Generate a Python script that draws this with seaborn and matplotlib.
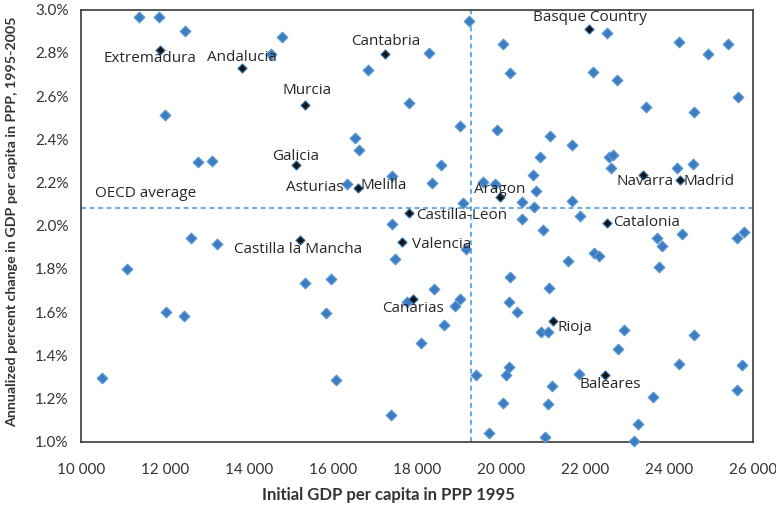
import matplotlib
matplotlib.use("Agg")
import matplotlib.pyplot as plt
import matplotlib.transforms as mtransforms
from matplotlib.ticker import FuncFormatter, MultipleLocator
import pandas as pd
import seaborn as sns

# Other OECD regions: initial GDP per capita in PPP (1995) and annualized growth (%)
oecd_gdp = [
    11381, 11857, 12476, 12008, 12794, 13127, 14778, 14516, 18278, 16826,
    19238, 20040, 20210, 17810, 19024, 19905, 16532, 16611, 18564, 22524,
    24238, 24921, 25413, 22190, 22754, 25635, 23452, 24587, 21167, 21683,
    20929, 22579, 22675, 22619, 24198, 24563, 20770, 20833, 20492, 20786,
    21683, 20508, 21889, 20992, 24310, 23722, 23841, 25611, 25786, 22214,
    22341, 21595, 23754, 20210, 21135, 20183, 20389, 22937, 20944, 21111,
    24603, 22794, 20190, 20119, 24238, 25746, 21857, 21222, 25626, 23627,
    20040, 21127, 23270, 21040, 23175, 18643, 18095, 16079, 17381, 19405,
    19707, 10492, 12460, 12611, 13238, 11095, 12016, 17413, 18349, 19579,
    19857, 19087, 17405, 19167, 17468, 15952, 15325, 18405, 17762, 19016,
    18897, 15833,
]
oecd_growth = [
    2.966, 2.966, 2.900, 2.512, 2.295, 2.301, 2.876, 2.796, 2.799, 2.719,
    2.950, 2.843, 2.707, 2.566, 2.460, 2.444, 2.404, 2.349, 2.282, 2.892,
    2.852, 2.795, 2.843, 2.713, 2.676, 2.596, 2.551, 2.526, 2.417, 2.372,
    2.316, 2.316, 2.327, 2.267, 2.267, 2.286, 2.233, 2.163, 2.110, 2.087,
    2.114, 2.031, 2.046, 1.978, 1.961, 1.941, 1.906, 1.943, 1.971, 1.874,
    1.858, 1.836, 1.809, 1.764, 1.710, 1.648, 1.602, 1.515, 1.506, 1.506,
    1.494, 1.431, 1.347, 1.307, 1.360, 1.356, 1.312, 1.258, 1.239, 1.205,
    1.177, 1.176, 1.083, 1.022, 1.003, 1.540, 1.458, 1.287, 1.122, 1.310,
    1.040, 1.296, 1.583, 1.941, 1.917, 1.801, 1.602, 2.230, 2.199, 2.201,
    2.194, 2.103, 2.008, 1.892, 1.846, 1.755, 1.733, 1.708, 1.647, 1.662,
    1.628, 1.596,
]

# Spanish regions
spain_names = [
    "Extremadura", "Andalucia", "Cantabria", "Murcia", "Galicia", "Asturias",
    "Melilla", "Castilla-Leon", "Castilla la Mancha", "Valencia", "Canarias",
    "Aragon", "Basque Country", "Navarra", "Madrid", "Catalonia", "Rioja",
    "Baleares",
]
spain_gdp = [
    11889, 13841, 17246, 15333, 15111, 16341, 16587, 17817, 15214, 17651,
    17897, 19976, 22103, 23373, 24262, 22532, 21230, 22484,
]
spain_growth = [
    2.813, 2.728, 2.793, 2.559, 2.282, 2.193, 2.175, 2.057, 1.934, 1.923,
    1.660, 2.133, 2.912, 2.233, 2.210, 2.012, 1.560, 1.310,
]
spain_dark = [True, True, True, True, True, False, True, True, True, True,
              True, True, True, True, True, True, True, True]

# OECD averages used for the reference lines
oecd_avg_gdp = 19280
oecd_avg_growth = 2.08

x_ticks = list(range(10000, 26001, 2000))

# Label placement: (dx, dy) in pixels from the marker, horizontal alignment
label_layout = {
    "Extremadura": (-10, -8, "center"),
    "Andalucia": (0, 11, "center"),
    "Cantabria": (0, 13, "center"),
    "Murcia": (2, 14, "center"),
    "Galicia": (0, 8, "center"),
    "Asturias": (-4, -3, "right"),
    "Melilla": (3, 2, "left"),
    "Castilla-Leon": (7, -2, "left"),
    "Castilla la Mancha": (-2, -10, "center"),
    "Valencia": (10, -2, "left"),
    "Canarias": (0, -9, "center"),
    "Aragon": (0, 7, "center"),
    "Basque Country": (1, 11, "center"),
    "Navarra": (2, -6, "center"),
    "Madrid": (3, -1, "left"),
    "Catalonia": (6, 1, "left"),
    "Rioja": (5, -7, "left"),
    "Baleares": (5, -10, "center"),
}

oecd_df = pd.DataFrame({"gdp": oecd_gdp, "growth": oecd_growth})
spain_df = pd.DataFrame({"name": spain_names, "gdp": spain_gdp,
                         "growth": spain_growth, "dark": spain_dark})

sns.set_theme(style="white")
plt.rcParams["font.family"] = ["Lato", "DejaVu Sans"]

fig = plt.figure(figsize=(7.76, 5.07), dpi=100)
ax = fig.add_axes([0.1044, 0.1288, 0.866, 0.852])

blue_fill = "#3d7cc1"
blue_edge = "#5b9bd5"
line_blue = "#3a96dc"

sns.scatterplot(data=oecd_df, x="gdp", y="growth", marker="D", s=30,
                color=blue_fill, edgecolor=blue_edge, linewidth=0.8,
                ax=ax, zorder=3, clip_on=False)
sns.scatterplot(data=spain_df[~spain_df["dark"]], x="gdp", y="growth",
                marker="D", s=30, color=blue_fill, edgecolor=blue_edge,
                linewidth=0.8, ax=ax, zorder=3, clip_on=False)
sns.scatterplot(data=spain_df[spain_df["dark"]], x="gdp", y="growth",
                marker="D", s=22, color="#151515", edgecolor="#3a78b8",
                linewidth=0.8, ax=ax, zorder=4, clip_on=False)

ax.axvline(oecd_avg_gdp, color=line_blue, lw=1.1, ls=(0, (3.2, 2.4)), zorder=2)
ax.axhline(oecd_avg_growth, color=line_blue, lw=1.1, ls=(0, (3.2, 2.4)), zorder=2)

label_font = dict(family=["Open Sans", "DejaVu Sans"], fontsize=11, color="#262626")
for _, row in spain_df.iterrows():
    dx, dy, ha = label_layout[row["name"]]
    ax.annotate(row["name"], xy=(row["gdp"], row["growth"]),
                xytext=(dx, dy), textcoords="offset pixels",
                ha=ha, va="center", zorder=5, **label_font)

blend = mtransforms.blended_transform_factory(ax.transAxes, ax.transData)
ax.annotate("OECD average", xy=(0.021, oecd_avg_growth), xycoords=blend,
            xytext=(0, 15), textcoords="offset pixels",
            ha="left", va="center", **label_font)

ax.set_xlim(10000, 26000)
ax.set_ylim(1.0, 3.0)
ax.set_xticks(x_ticks)
ax.yaxis.set_major_locator(MultipleLocator(0.2))
ax.xaxis.set_major_formatter(FuncFormatter(lambda v, _: f"{int(round(v)):,}".replace(",", " ")))
ax.yaxis.set_major_formatter(FuncFormatter(lambda v, _: f"{v:.1f}%"))
ax.tick_params(axis="both", length=0, labelsize=11, labelcolor="#333333")
ax.tick_params(axis="x", pad=15)
ax.tick_params(axis="y", pad=9)

for side, sp in ax.spines.items():
    sp.set_visible(True)
    sp.set_color("#3a3a3a")
    sp.set_linewidth(1.2)

ax.set_xlabel("Initial GDP per capita in PPP 1995", fontsize=12, fontweight="bold",
              color="#333333")
ax.set_ylabel("Annualized percent change in GDP per capita in PPP, 1995-2005",
              fontsize=10.3, fontweight="bold", color="#333333")
ax.xaxis.set_label_coords(0.458, -0.104)
ax.yaxis.set_label_coords(-0.093, 0.51)

fig.savefig("out.png", dpi=100)
